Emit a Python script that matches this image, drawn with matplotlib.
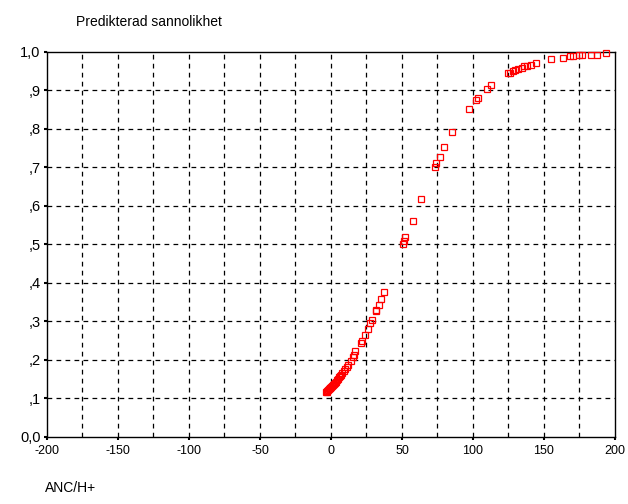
import numpy as np
import matplotlib.pyplot as plt
from matplotlib.ticker import MultipleLocator, FuncFormatter

plt.rcParams['font.family'] = ['Liberation Sans', 'DejaVu Sans']

# ANC/H+ and predicted probability per observation
anc = [-3.5, -3.0, -2.5, -2.0, -1.5, -1.0, -0.5, 0.0, 0.6, 1.2, 1.8, 2.5,
       3.2, 4.0, 4.8, 5.6, 6.4, 7.2, 8.0, 9.0, 10.0, 11.0, 12.2,
       13.9, 15.7, 16.4, 17.1, 21.0, 21.6, 23.7, 26.1, 27.7, 28.9, 31.7,
       32.0, 33.8, 35.2, 37.1,
       50.5, 51.4, 52.3, 57.5, 63.4, 73.0, 74.0, 77.0, 79.8, 85.4, 97.2,
       101.9, 103.8, 109.6, 112.5, 124.9, 125.9, 128.0, 129.6, 131.9, 134.3,
       136.2, 137.8, 140.6, 144.6, 154.9, 163.4, 168.3, 170.7, 174.9, 176.8,
       182.9, 187.6, 193.7]
prob = [0.116, 0.118, 0.120, 0.122, 0.124, 0.126, 0.128, 0.130, 0.133, 0.135,
        0.138, 0.141, 0.144, 0.147, 0.151, 0.155, 0.158, 0.162, 0.166, 0.171,
        0.176, 0.181, 0.187,
        0.196, 0.207, 0.212, 0.223, 0.245, 0.248, 0.265, 0.281, 0.297, 0.305,
        0.326, 0.329, 0.344, 0.358, 0.376,
        0.500, 0.510, 0.520, 0.561, 0.617, 0.700, 0.711, 0.728, 0.753, 0.791,
        0.853, 0.874, 0.881, 0.903, 0.913, 0.945, 0.946, 0.950, 0.952, 0.956,
        0.959, 0.963, 0.964, 0.967, 0.971, 0.981, 0.985, 0.989, 0.989, 0.991,
        0.991, 0.991, 0.991, 0.997]

fig = plt.figure(figsize=(6.28, 5.04), dpi=100)
ax = fig.add_axes([0.0748, 0.133, 0.9045, 0.764])

ax.plot(anc, prob, linestyle='none', marker='s', markersize=4.3,
        markerfacecolor='none', markeredgecolor='#ff0000',
        markeredgewidth=0.9, clip_on=False, zorder=3)

ax.set_xlim(-200, 200)
ax.set_ylim(0, 1)
ax.xaxis.set_major_locator(MultipleLocator(50))
ax.xaxis.set_minor_locator(MultipleLocator(25))
ax.yaxis.set_major_locator(MultipleLocator(0.1))


def swe(v, pos):
    s = '%.1f' % v
    s = s.replace('.', ',')
    if s.startswith('0,') and v > 0:
        s = s[1:]
    return s


ax.yaxis.set_major_formatter(FuncFormatter(swe))
ax.xaxis.set_major_formatter(FuncFormatter(lambda v, p: '%d' % v))

ax.tick_params(axis='both', which='major', length=2.5, width=1.5,
               direction='out', labelsize=9, colors='black', pad=3)
ax.tick_params(axis='x', which='minor', length=0)
ax.tick_params(axis='y', labelsize=10.5, pad=2)

# dashed grid at every 25 on x and every 0.1 on y
dash = (0, (3.8, 3.4))
for gx in np.arange(-175, 200, 25):
    ax.axvline(gx, color='black', linewidth=0.9, linestyle=dash, zorder=1)
for gy in np.arange(0.1, 1.0, 0.1):
    ax.axhline(gy, color='black', linewidth=0.9, linestyle=dash, zorder=1)

for s in ax.spines.values():
    s.set_linewidth(1.0)
    s.set_color('black')

fig.text(76 / 628, 1 - 22 / 504, 'Predikterad sannolikhet', fontsize=10,
         ha='left', va='center')
fig.text(45 / 628, 1 - 488 / 504, 'ANC/H+', fontsize=10,
         ha='left', va='center')

fig.savefig('out.png', dpi=100)
